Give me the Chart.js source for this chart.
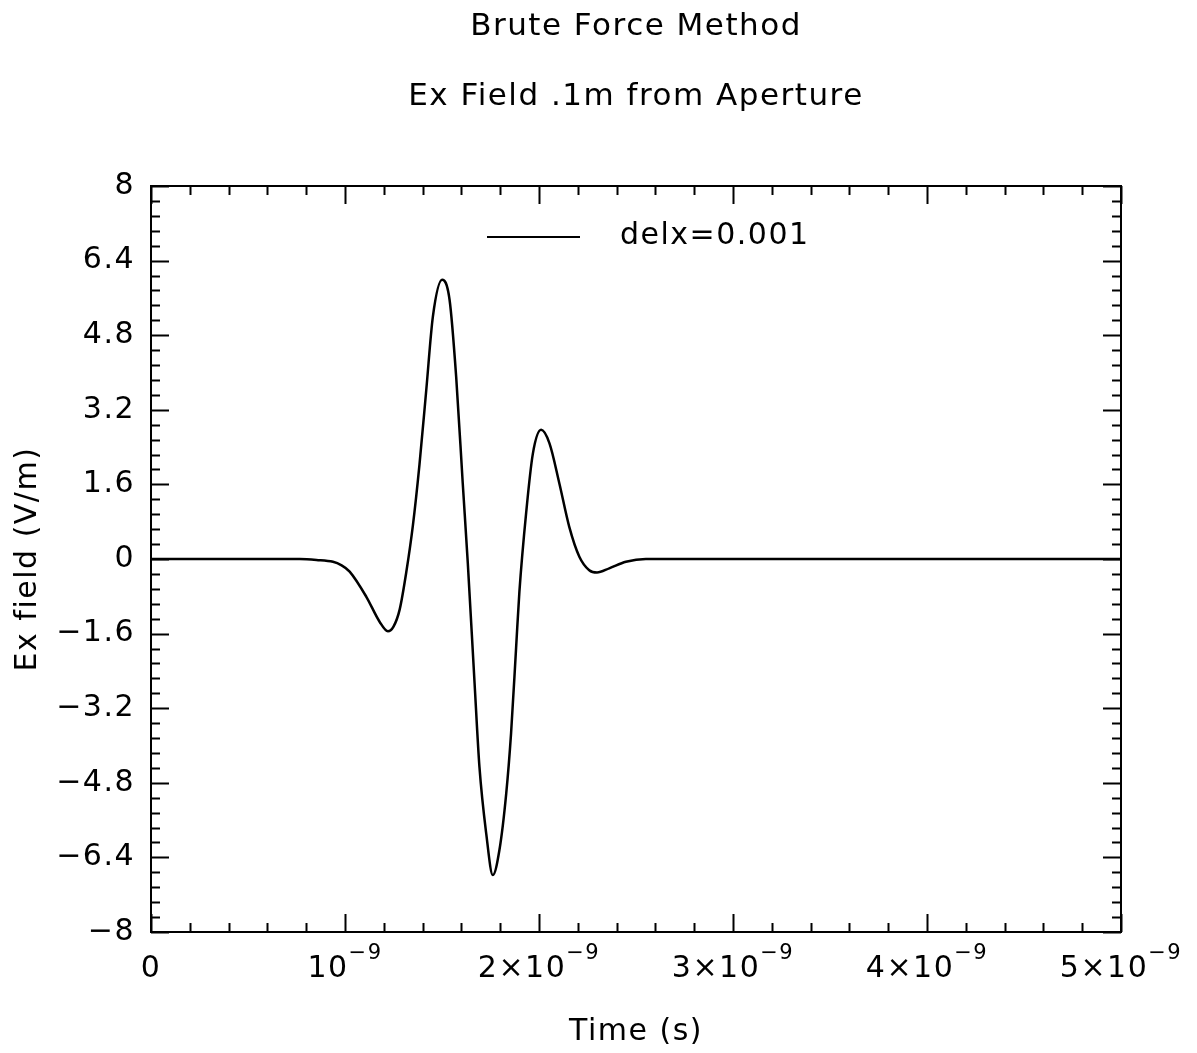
<!DOCTYPE html>
<html><head><meta charset="utf-8">
<script src="https://cdn.jsdelivr.net/npm/chart.js@4.4.1/dist/chart.umd.min.js"></script>
<style>html,body{margin:0;padding:0;background:#fff;}canvas{display:block;}</style>
</head><body>
<canvas id="c" width="1197" height="1053"></canvas>
<script>
// ---- data ----
const timeSeconds = [0, 0.5e-9, 0.767e-9, 0.853e-9, 0.938e-9, 0.980e-9, 1.024e-9, 1.110e-9, 1.179e-9, 1.221e-9,
  1.250e-9, 1.282e-9, 1.316e-9, 1.350e-9, 1.384e-9, 1.419e-9, 1.453e-9, 1.501e-9, 1.539e-9, 1.573e-9,
  1.607e-9, 1.633e-9, 1.668e-9, 1.693e-9, 1.728e-9, 1.762e-9, 1.796e-9, 1.831e-9, 1.856e-9, 1.882e-9,
  1.899e-9, 1.934e-9, 1.968e-9, 2.011e-9, 2.054e-9, 2.105e-9, 2.156e-9, 2.208e-9, 2.259e-9, 2.299e-9,
  2.362e-9, 2.448e-9, 2.551e-9, 3.0e-9, 5.0e-9];
const exField = [0, 0, 0, -0.02, -0.06, -0.13, -0.27, -0.81, -1.35, -1.55,
  -1.45, -1.08, -0.28, 0.72, 2.03, 3.63, 5.20, 5.99, 5.56, 3.91,
  1.62, -0.09, -2.67, -4.46, -5.89, -6.78, -6.24, -5.03, -3.74, -1.90,
  -0.70, 1.00, 2.25, 2.77, 2.48, 1.62, 0.69, 0.05, -0.24, -0.29,
  -0.20, -0.06, 0, 0, 0];
const seriesLabel = 'delx=0.001';
const yTickValues = [-8, -6.4, -4.8, -3.2, -1.6, 0, 1.6, 3.2, 4.8, 6.4, 8];
const yTickLabels = ['\u22128', '\u22126.4', '\u22124.8', '\u22123.2', '\u22121.6', '0', '1.6', '3.2', '4.8', '6.4', '8'];
const xTickValues = [0, 1e-9, 2e-9, 3e-9, 4e-9, 5e-9];
const xTickBase = ['0', '10', '2\u00d710', '3\u00d710', '4\u00d710', '5\u00d710'];
const xTickExp = ['', '\u22129', '\u22129', '\u22129', '\u22129', '\u22129'];
const titleText = 'Brute Force Method';
const subtitleText = 'Ex Field .1m from Aperture';
const xTitleText = 'Time (s)';
const yTitleText = 'Ex field (V/m)';
const xMinorPerMajor = 5, yMinorPerMajor = 5;

const FONT = "'DejaVu Sans', sans-serif";

const spacingPlugin = {
  id: 'spacing',
  beforeDraw(chart) { chart.ctx.letterSpacing = '1.5px'; }
};

const framePlugin = {
  id: 'frame',
  afterDatasetsDraw(chart) {
    const {ctx, chartArea: a, scales: {x, y}} = chart;
    ctx.save();
    ctx.strokeStyle = '#000';
    ctx.lineWidth = 2;
    ctx.strokeRect(a.left, a.top, a.right - a.left, a.bottom - a.top);
    ctx.beginPath();
    for (let m = 0; m < xTickValues.length; m++) {
      const v0 = xTickValues[m];
      const v1 = m + 1 < xTickValues.length ? xTickValues[m + 1] : null;
      const subs = v1 === null ? [v0] : Array.from({length: xMinorPerMajor}, (_, k) => v0 + (v1 - v0) * k / xMinorPerMajor);
      subs.forEach((v, k) => {
        const px = Math.round(x.getPixelForValue(v)) + 0.5;
        const len = k === 0 ? 18 : 9;
        ctx.moveTo(px, a.bottom); ctx.lineTo(px, a.bottom - len);
        ctx.moveTo(px, a.top); ctx.lineTo(px, a.top + len);
      });
    }
    for (let m = 0; m < yTickValues.length; m++) {
      const v0 = yTickValues[m];
      const v1 = m + 1 < yTickValues.length ? yTickValues[m + 1] : null;
      const subs = v1 === null ? [v0] : Array.from({length: yMinorPerMajor}, (_, k) => v0 + (v1 - v0) * k / yMinorPerMajor);
      subs.forEach((v, k) => {
        const py = Math.round(y.getPixelForValue(v)) + 0.5;
        const len = k === 0 ? 18 : 9;
        ctx.moveTo(a.left, py); ctx.lineTo(a.left + len, py);
        ctx.moveTo(a.right, py); ctx.lineTo(a.right - len, py);
      });
    }
    ctx.stroke();
    ctx.restore();
  },
  afterDraw(chart) {
    const {ctx, chartArea: a, scales: {x}} = chart;
    ctx.save();
    ctx.fillStyle = '#000';
    ctx.textBaseline = 'alphabetic';
    ctx.textAlign = 'left';
    const baseFont = '30px ' + FONT, expFont = '21px ' + FONT;
    xTickValues.forEach((v, i) => {
      ctx.font = baseFont;
      const wb = ctx.measureText(xTickBase[i]).width;
      ctx.font = expFont;
      const we = xTickExp[i] ? ctx.measureText(xTickExp[i]).width : 0;
      const px = x.getPixelForValue(v);
      const start = px - (wb + we) / 2;
      ctx.font = baseFont;
      ctx.fillText(xTickBase[i], start, a.bottom + 45);
      if (xTickExp[i]) {
        ctx.font = expFont;
        ctx.fillText(xTickExp[i], start + wb, a.bottom + 27);
      }
    });
    // legend
    const ds = chart.data.datasets[0];
    const ly = a.top + 51;
    ctx.strokeStyle = ds.borderColor;
    ctx.lineWidth = 2;
    ctx.beginPath();
    ctx.moveTo(a.left + 336, ly); ctx.lineTo(a.left + 429, ly);
    ctx.stroke();
    ctx.font = '30px ' + FONT;
    ctx.textBaseline = 'middle';
    ctx.fillText(ds.label, a.left + 469, ly - 1);
    ctx.restore();
  }
};

new Chart(document.getElementById('c'), {
  type: 'line',
  data: {
    datasets: [{
      label: seriesLabel,
      data: timeSeconds.map((t, i) => ({x: t, y: exField[i]})),
      borderColor: '#000',
      borderWidth: 2.5,
      pointRadius: 0,
      fill: false,
      cubicInterpolationMode: 'monotone'
    }]
  },
  options: {
    responsive: false,
    animation: false,
    layout: {padding: {top: 0, right: 76, bottom: 0, left: 0}},
    plugins: {
      legend: {display: false},
      tooltip: {enabled: false},
      title: {display: true, text: titleText, fullSize: false, color: '#000',
        font: {family: FONT, size: 31, weight: 'normal'}, padding: {top: 8, bottom: 20}},
      subtitle: {display: true, text: subtitleText, fullSize: false, color: '#000',
        font: {family: FONT, size: 31, weight: 'normal'}, padding: {top: 13.2, bottom: 70.4}}
    },
    scales: {
      x: {
        type: 'linear', min: 0, max: 5e-9,
        afterBuildTicks: s => { s.ticks = xTickValues.map(v => ({value: v})); },
        afterFit: s => { s.height = 121; },
        ticks: {display: false},
        grid: {display: false},
        border: {display: false},
        title: {display: true, text: xTitleText, color: '#000', font: {family: FONT, size: 30}, padding: {top: 0, bottom: 3}}
      },
      y: {
        type: 'linear', min: -8, max: 8,
        afterBuildTicks: s => { s.ticks = yTickValues.map(v => ({value: v})); },
        afterFit: s => { s.width = 151; },
        ticks: {autoSkip: false, color: '#000', padding: 8, font: {family: FONT, size: 30},
          callback: (v, i) => yTickLabels[i]},
        grid: {display: false},
        border: {display: false},
        title: {display: true, text: yTitleText, color: '#000', font: {family: FONT, size: 30}, padding: {top: 10, bottom: 0}}
      }
    }
  },
  plugins: [spacingPlugin, framePlugin]
});
</script>
</body></html>
